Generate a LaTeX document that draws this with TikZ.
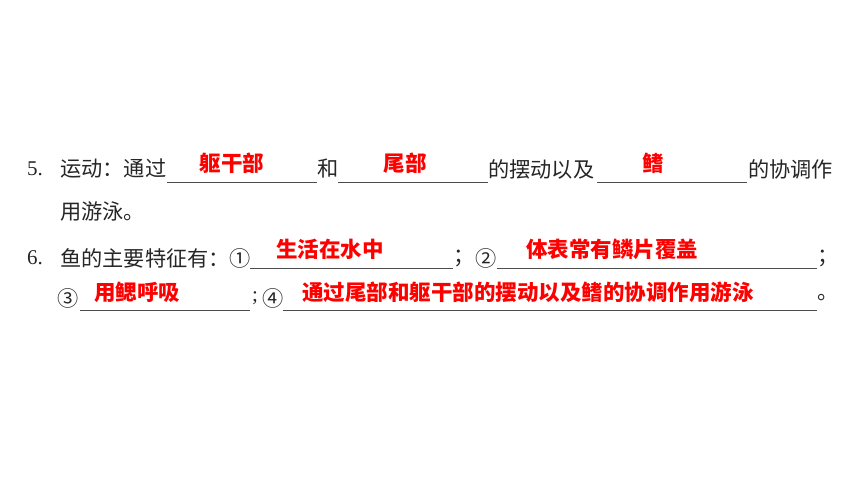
\documentclass[tikz,border=0pt]{standalone}
\usepackage{fontspec}
\setmainfont{Liberation Serif}
\newfontfamily\cjk{Noto Sans CJK SC}
\begin{document}
\begin{tikzpicture}[
  x=1pt, y=-1pt,
  txt/.style={anchor=west, inner sep=0pt, text=black!85,
    font=\cjk\fontsize{21.2}{24}\selectfont},
  num/.style={anchor=west, inner sep=0pt, text=black!85,
    font=\fontsize{21}{24}\selectfont},
  ans/.style={inner sep=0pt, text=red,
    font=\cjk\bfseries\fontsize{21.5}{24}\selectfont},
  blank/.style={draw=black!70, line width=0.9pt}]
\useasboundingbox [fill=white] (0,0) rectangle (860,484);
\node [num] (num5) at (27,169) {5.};
\node [txt] (q5a) at (60,169) {运动：通过};
\node [txt] (q5b) at (317,169) {和};
\node [txt] (q5c) at (488,169) {的摆动以及};
\node [txt] (q5d) at (748,169) {的协调作};
\node [txt] (q5e) at (60,211) {用游泳。};
\node [num] (num6) at (27,258) {6.};
\node [txt] (q6a) at (60,258) {鱼的主要特征有：①};
\node [txt] (q6b) at (453,258) {；};
\node [txt] (q6c) at (475,258) {②};
\node [txt] (q6d) at (817,258) {；};
\node [txt] (q6e) at (57,298) {③};
\node [num] (q6f) at (252,298) {;};
\node [txt] (q6g) at (262,298) {④};
\node [txt] (q6h) at (817,298) {。};
\foreach \a/\b/\y in {167/317/182, 338/488/182, 597/747/182,
    250/453/268, 497/817/268, 80/250/310, 283/817/310}
  \draw [blank] (\a,\y) -- (\b,\y);
\node [ans] (ans1) at (232,163) {躯干部};
\node [ans] (ans2) at (405,163) {尾部};
\node [ans] (ans3) at (653,163) {鳍};
\node [ans] (ans4) at (330,249) {生活在水中};
\node [ans] (ans5) at (612,249) {体表常有鳞片覆盖};
\node [ans] (ans6) at (137,292) {用鳃呼吸};
\node [ans] (ans7) at (528,292) {通过尾部和躯干部的摆动以及鳍的协调作用游泳};
\end{tikzpicture}
\end{document}
